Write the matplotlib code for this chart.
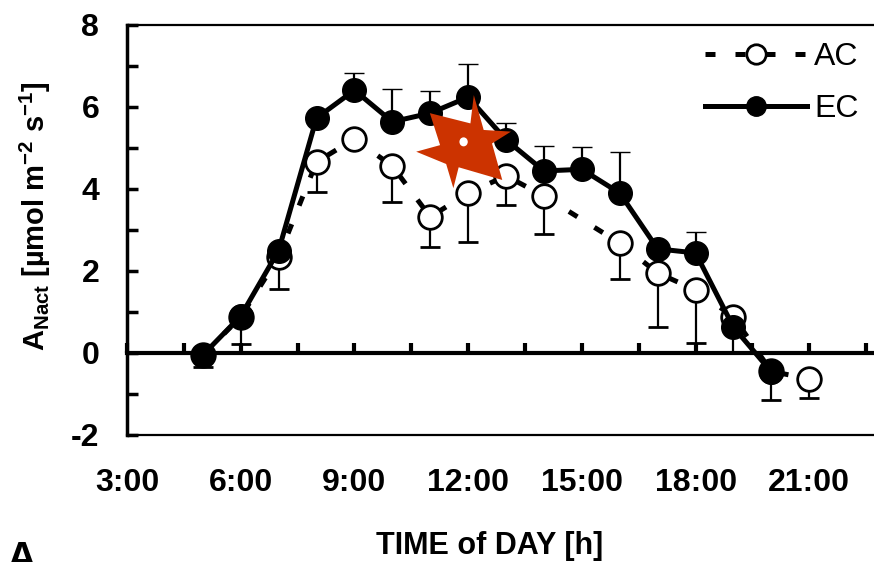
import matplotlib
matplotlib.use("Agg")
import matplotlib.pyplot as plt
from matplotlib.ticker import MultipleLocator, FixedLocator
from matplotlib.patches import Polygon, Ellipse
from matplotlib.lines import Line2D
import numpy as np

# --- values ---
hours_ac = [5, 6, 7, 8, 9, 10, 11, 12, 13, 14, 16, 17, 18, 19, 20, 21]
anet_ac = [-0.05, 0.88, 2.34, 4.66, 5.22, 4.56, 3.32, 3.90, 4.32, 3.83,
           2.68, 1.95, 1.54, 0.88, -0.45, -0.63]
err_ac = [0.30, 0.65, 0.78, 0.73, np.nan, 0.88, 0.73, 1.20, 0.70, 0.93,
          0.88, 1.32, 1.29, 0.85, 0.70, 0.47]

hours_ec = [5, 6, 7, 8, 9, 10, 11, 12, 13, 14, 15, 16, 17, 18, 19, 20]
anet_ec = [-0.05, 0.90, 2.50, 5.73, 6.41, 5.64, 5.85, 6.24, 5.20, 4.44,
           4.48, 3.90, 2.54, 2.44, 0.63, -0.46]
err_ec = [np.nan, np.nan, np.nan, np.nan, 0.42, 0.80, 0.55, 0.80, 0.40, 0.60,
          0.55, 1.00, np.nan, 0.51, np.nan, np.nan]

time_ticks = [3, 6, 9, 12, 15, 18, 21]
time_labels = ["3:00", "6:00", "9:00", "12:00", "15:00", "18:00", "21:00"]

# orange star sitting over the midday points (data units)
star_x = [10.99, 12.06, 12.15, 12.41, 13.13, 12.63, 12.90, 11.75, 11.61, 11.42, 10.63, 11.26]
star_y = [5.85, 5.60, 6.29, 5.44, 5.40, 5.11, 4.22, 4.53, 4.02, 4.61, 4.91, 5.07]

plt.rcParams["font.family"] = ["Liberation Sans", "DejaVu Sans"]
plt.rcParams["axes.unicode_minus"] = False
plt.rcParams["mathtext.fontset"] = "custom"
plt.rcParams["mathtext.rm"] = "Liberation Sans:bold"
plt.rcParams["mathtext.it"] = "Liberation Sans:bold"
plt.rcParams["mathtext.bf"] = "Liberation Sans:bold"

fig = plt.figure(figsize=(8.74, 5.62), dpi=100)
ax = fig.add_axes([127 / 874, 1 - 435 / 562, (923 - 127) / 874, 410 / 562])

ax.set_xlim(3, 24)
ax.set_ylim(-2, 8)

lw_data = 3.6
ms = 17

ax.errorbar(hours_ac, anet_ac, yerr=[err_ac, np.zeros(len(err_ac))],
            color="black", lw=lw_data, dashes=(2, 4),
            marker="o", ms=ms, mfc="white", mec="black", mew=2,
            ecolor="black", elinewidth=1.6, capsize=7, capthick=1.6,
            zorder=3)
ax.errorbar(hours_ec, anet_ec, yerr=[np.zeros(len(err_ec)), err_ec],
            color="black", lw=lw_data, ls="-",
            marker="o", ms=ms, mfc="black", mec="black", mew=1,
            ecolor="black", elinewidth=1.6, capsize=7, capthick=1.6,
            zorder=4)

# zero line with its tick marks
zero_ax = ax.secondary_xaxis(0.2)
zero_ax.spines["bottom"].set_linewidth(3)
zero_ax.xaxis.set_major_locator(MultipleLocator(1.5))
zero_ax.tick_params(axis="x", direction="in", length=7, width=3, labelbottom=False)

# star
star = Polygon(np.column_stack([star_x, star_y]), closed=True,
               facecolor="#cc3300", edgecolor="none", zorder=6)
ax.add_patch(star)
ax.add_patch(Ellipse((11.88, 5.15), 0.22, 0.22, facecolor="white",
                     edgecolor="none", zorder=7))

# axes styling
ax.spines["right"].set_visible(False)
ax.spines["left"].set_linewidth(2.5)
ax.spines["top"].set_linewidth(1.6)
ax.spines["bottom"].set_linewidth(1.6)

ax.xaxis.set_major_locator(FixedLocator(time_ticks))
ax.set_xticklabels(time_labels)
ax.tick_params(axis="x", length=0, pad=24, labelsize=23)
for t in ax.get_xticklabels():
    t.set_fontweight("bold")

ax.yaxis.set_major_locator(MultipleLocator(2))
ax.yaxis.set_minor_locator(MultipleLocator(1))
ax.tick_params(axis="y", which="both", direction="in", length=8, width=2.5,
               pad=20, labelsize=23)
for t in ax.get_yticklabels():
    t.set_fontweight("bold")

ax.set_xlabel("TIME of DAY [h]", fontsize=22, fontweight="bold")
ax.xaxis.set_label_coords((490 - 127) / 796, (435 - 546) / 410)
ax.xaxis.label.set_verticalalignment("center")
ax.set_ylabel(r"$\mathrm{A_{Nact}}$ [µmol m$^{-2}$ s$^{-1}$]",
              fontsize=21, fontweight="bold")
ax.yaxis.set_label_coords((35 - 127) / 796, (435 - 216) / 410)
ax.yaxis.label.set_verticalalignment("center")

handles = [
    Line2D([], [], color="black", lw=lw_data, dashes=(2, 4), marker="o",
           ms=14, mfc="white", mec="black", mew=2),
    Line2D([], [], color="black", lw=lw_data, ls="-", marker="o",
           ms=14, mfc="black", mec="black"),
]
ax.legend(handles, ["AC", "EC"], loc="upper left",
          bbox_to_anchor=(705 / 874, 1 - 42 / 562),
          bbox_transform=fig.transFigure, frameon=False, fontsize=23,
          handlelength=3.2, handletextpad=0.22, labelspacing=0.68,
          borderpad=0, borderaxespad=0, numpoints=1)

fig.text(0.008, 1 - 540 / 562, "A", fontsize=30, fontweight="bold", va="top")

fig.savefig("out.png", dpi=100)
